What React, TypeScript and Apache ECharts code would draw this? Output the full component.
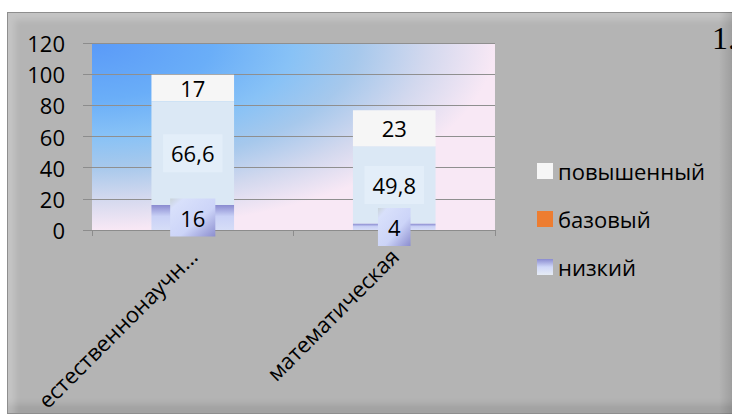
import React, { useEffect, useRef } from 'react';
import * as echarts from 'echarts';

const categories = ['естественнонаучн...', 'математическая'];
const lowValues = [16, 4];
const baseValues = [66.6, 49.8];
const highValues = [17, 23];
const seriesNames = { high: 'повышенный', base: 'базовый', low: 'низкий' };
const yMin = 0;
const yMax = 120;
const yInterval = 20;

const FONT = "'Open Sans', 'Noto Sans', 'DejaVu Sans', sans-serif";
const FS = 22;
const W = 732;
const H = 419;
const GRID = { left: 92, right: 237, top: 43, bottom: 189 };

const fmt = (p: any) => String(p.value).replace('.', ',');

export default function App() {
  const ref = useRef<HTMLDivElement>(null);

  useEffect(() => {
    if (!ref.current) return;
    const chart = echarts.init(ref.current, undefined, { renderer: 'svg' });

    const lowGradient = new echarts.graphic.LinearGradient(0, 0, 0, 1, [
      { offset: 0, color: '#8a8bd0' },
      { offset: 0.45, color: '#c9d1f6' },
      { offset: 1, color: '#d6ddf7' },
    ]);
    const lowLabelBg = new echarts.graphic.LinearGradient(0, 0, 1, 1, [
      { offset: 0, color: '#c9d3d8' },
      { offset: 0.15, color: '#d8e0fb' },
      { offset: 0.6, color: '#ccd4f8' },
      { offset: 1, color: '#8c8ecf' },
    ]);
    const legendLow = new echarts.graphic.LinearGradient(0, 0, 0, 1, [
      { offset: 0, color: '#8a8bd0' },
      { offset: 0.5, color: '#d0d8f8' },
      { offset: 1, color: '#e6ecf4' },
    ]);

    const labelBase = {
      show: true,
      position: 'inside' as const,
      color: '#000',
      fontFamily: FONT,
      fontSize: FS,
      formatter: fmt,
    };

    const gw = W - GRID.left - GRID.right;
    const gh = H - GRID.top - GRID.bottom;
    const sx = gw / gh;

    chart.setOption({
      animation: false,
      backgroundColor: 'transparent',
      textStyle: { fontFamily: FONT },
      grid: {
        ...GRID,
        show: false,
      },
      legend: {
        orient: 'vertical',
        left: 537,
        top: 160,
        padding: 0,
        itemWidth: 16,
        itemHeight: 16,
        itemGap: 26,
        icon: 'rect',
        textStyle: { fontFamily: FONT, fontSize: FS, color: '#000', lineHeight: 22 },
        data: [
          { name: seriesNames.high, itemStyle: { color: '#f6f6f6' } },
          { name: seriesNames.base, itemStyle: { color: '#ed7d31' } },
          { name: seriesNames.low, itemStyle: { color: legendLow } },
        ],
      },
      xAxis: {
        type: 'category',
        data: categories,
        z: 1.5,
        axisLine: { show: true, lineStyle: { color: '#8c8c8c', width: 1 } },
        axisTick: { show: true, length: 6, lineStyle: { color: '#8c8c8c' } },
        axisLabel: {
          rotate: 45,
          margin: 22,
          fontSize: FS,
          color: '#000',
          fontFamily: FONT,
          interval: 0,
        },
        splitLine: { show: false },
      },
      yAxis: {
        type: 'value',
        min: yMin,
        max: yMax,
        interval: yInterval,
        z: 1.5,
        axisLine: { show: false },
        axisTick: { show: true, length: 9, lineStyle: { color: '#8c8c8c' } },
        axisLabel: { margin: 27, fontSize: FS, color: '#000', fontFamily: FONT },
        splitLine: { show: true, lineStyle: { color: '#8f8f8f', width: 1 } },
      },
      series: [
        {
          name: seriesNames.low,
          type: 'bar',
          stack: 'total',
          barWidth: '41%',
          data: lowValues,
          itemStyle: { color: lowGradient },
          label: {
            ...labelBase,
            backgroundColor: lowLabelBg,
            padding: [8, 10],
          },
          z: 3,
        },
        {
          name: seriesNames.base,
          type: 'bar',
          stack: 'total',
          barWidth: '41%',
          data: baseValues,
          itemStyle: { color: '#dbe8f5' },
          label: {
            ...labelBase,
            backgroundColor: '#e3eef9',
            padding: [8, 8],
          },
          z: 2,
        },
        {
          name: seriesNames.high,
          type: 'bar',
          stack: 'total',
          barWidth: '41%',
          data: highValues,
          itemStyle: { color: '#f6f6f6' },
          label: { ...labelBase },
          z: 2,
        },
      ],
      graphic: [
        {
          type: 'rect',
          z: 1,
          silent: true,
          x: GRID.left,
          y: GRID.top,
          scaleX: sx,
          scaleY: 1,
          shape: { x: 0, y: 0, width: gh, height: gh },
          style: {
            fill: new echarts.graphic.RadialGradient(0, 0, 1, [
              { offset: 0, color: '#5a9af8' },
              { offset: 0.3, color: '#6aaef8' },
              { offset: 0.5, color: '#88c2f6' },
              { offset: 0.66, color: '#a6c8ec' },
              { offset: 0.83, color: '#d2d8ee' },
              { offset: 1, color: '#f8e8f5' },
            ]),
          },
        },
        {
          type: 'text',
          left: 712,
          top: 22,
          z: 100,
          style: {
            text: '1.',
            fontFamily: "'Liberation Serif', 'DejaVu Serif', serif",
            fontSize: 32,
            fill: '#000',
          },
        },
      ],
    });

    return () => chart.dispose();
  }, []);

  return (
    <div style={{ position: 'fixed', left: 0, top: 0, width: W, height: H, background: '#fff', overflow: 'hidden' }}>
      <div
        style={{
          position: 'absolute',
          left: 7,
          top: 12,
          width: 740,
          height: 402,
          background: '#b4b4b4',
          border: '1px solid #8e8e8e',
          boxShadow: 'inset 7px 7px 6px rgba(255,255,255,0.22), inset -9px -9px 6px rgba(0,0,0,0.10)',
          boxSizing: 'border-box',
        }}
      />
      <div
        style={{
          position: 'absolute',
          left: 719,
          top: 12,
          width: 13,
          height: 402,
          background: 'linear-gradient(to right, rgba(0,0,0,0), rgba(0,0,0,0.12))',
        }}
      />
      <div ref={ref} style={{ position: 'absolute', left: 0, top: 0, width: W, height: H }} />
    </div>
  );
}
